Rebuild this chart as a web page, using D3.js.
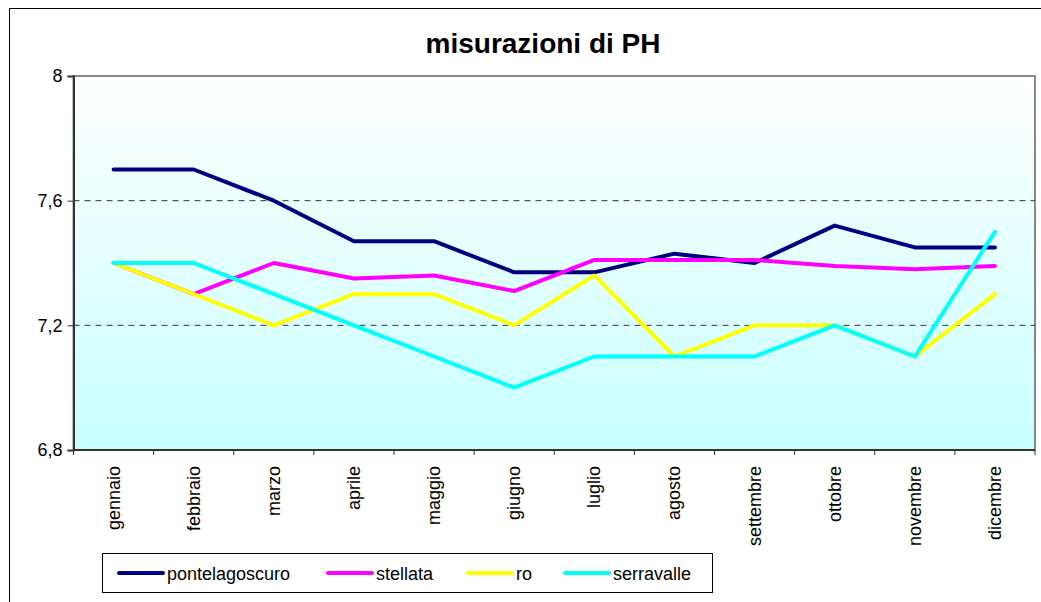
<!DOCTYPE html>
<html>
<head>
<meta charset="utf-8">
<script src="https://cdn.jsdelivr.net/npm/d3@7"></script>
<style>
  body { margin: 0; background: #fff; }
  text { font-family: "Liberation Sans", Arial, sans-serif; }
</style>
</head>
<body>
<script>
var months = ["gennaio", "febbraio", "marzo", "aprile", "maggio", "giugno",
    "luglio", "agosto", "settembre", "ottobre", "novembre", "dicembre"];
var pontelagoscuro = [7.7, 7.7, 7.6, 7.47, 7.47, 7.37, 7.37, 7.43, 7.40, 7.52, 7.45, 7.45];
var stellata = [7.4, 7.3, 7.4, 7.35, 7.36, 7.31, 7.41, 7.41, 7.41, 7.39, 7.38, 7.39];
var ro = [7.4, 7.3, 7.2, 7.3, 7.3, 7.2, 7.36, 7.1, 7.2, 7.2, 7.1, 7.3];
var serravalle = [7.4, 7.4, 7.3, 7.2, 7.1, 7.0, 7.1, 7.1, 7.1, 7.2, 7.1, 7.5];
var yTicks = [6.8, 7.2, 7.6, 8];

var series = [
    { name: "pontelagoscuro", values: pontelagoscuro, color: "#000080" },
    { name: "stellata", values: stellata, color: "#ff00ff" },
    { name: "ro", values: ro, color: "#ffff00" },
    { name: "serravalle", values: serravalle, color: "#00ffff" }
];

var width = 1041, height = 602;
var plot = { left: 73.5, top: 76, right: 1035, bottom: 450 };

var svg = d3.select("body").append("svg")
    .attr("width", width)
    .attr("height", height);

// outer chart frame (runs past the window on the right and bottom)
svg.append("rect")
    .attr("x", 9.5).attr("y", 8.5)
    .attr("width", 1100).attr("height", 700)
    .attr("fill", "#fff")
    .attr("stroke", "#000")
    .attr("stroke-width", 1);

var defs = svg.append("defs");
var grad = defs.append("linearGradient")
    .attr("id", "bg")
    .attr("x1", 0).attr("y1", 0).attr("x2", 0).attr("y2", 1);
grad.append("stop").attr("offset", "0%").attr("stop-color", "#ffffff");
grad.append("stop").attr("offset", "100%").attr("stop-color", "#c8ffff");

var x = d3.scalePoint()
    .domain(months)
    .range([plot.left, plot.right])
    .padding(0.5);

var y = d3.scaleLinear()
    .domain([6.8, 8])
    .range([plot.bottom, plot.top]);

svg.append("rect")
    .attr("x", plot.left).attr("y", plot.top)
    .attr("width", plot.right - plot.left)
    .attr("height", plot.bottom - plot.top)
    .attr("fill", "url(#bg)")
    .attr("stroke", "#888")
    .attr("stroke-width", 2);

// dashed gridlines
svg.append("g")
    .selectAll("line")
    .data(yTicks.filter(function (d) { return d > 6.8 && d < 8; }))
    .join("line")
    .attr("x1", plot.left).attr("x2", plot.right)
    .attr("y1", function (d) { return y(d); })
    .attr("y2", function (d) { return y(d); })
    .attr("stroke", "#333")
    .attr("stroke-width", 1)
    .attr("stroke-dasharray", "6,5");

// y axis
var yAxis = svg.append("g")
    .attr("transform", "translate(" + plot.left + ",0)")
    .call(d3.axisLeft(y).tickValues(yTicks).tickSize(6).tickPadding(5)
        .tickFormat(function (d) { return d3.format(".1f")(d).replace(".", ",").replace(",0", ""); }));
yAxis.select(".domain").attr("stroke", "#333").attr("stroke-width", 2);
yAxis.selectAll(".tick line").attr("stroke", "#333");
yAxis.selectAll("text")
    .attr("font-size", 18)
    .attr("fill", "#000")
    .style("font-family", "'Liberation Sans', Arial, sans-serif");

// x axis: ticks at band boundaries
var bandW = (plot.right - plot.left) / months.length;
var xAxisG = svg.append("g");
xAxisG.append("line")
    .attr("x1", plot.left).attr("x2", plot.right)
    .attr("y1", plot.bottom).attr("y2", plot.bottom)
    .attr("stroke", "#333").attr("stroke-width", 2);
xAxisG.selectAll(".xtick")
    .data(d3.range(months.length + 1))
    .join("line")
    .attr("class", "xtick")
    .attr("x1", function (i) { return plot.left + i * bandW; })
    .attr("x2", function (i) { return plot.left + i * bandW; })
    .attr("y1", plot.bottom).attr("y2", plot.bottom + 5)
    .attr("stroke", "#333").attr("stroke-width", 1);
xAxisG.selectAll(".xlabel")
    .data(months)
    .join("text")
    .attr("class", "xlabel")
    .attr("transform", function (d) {
        return "translate(" + (x(d) + 6) + "," + (plot.bottom + 16) + ") rotate(-90)";
    })
    .attr("text-anchor", "end")
    .attr("font-size", 18)
    .text(function (d) { return d; });

// lines
var line = d3.line()
    .x(function (d, i) { return x(months[i]); })
    .y(function (d) { return y(d); });

svg.append("g")
    .selectAll("path")
    .data(series)
    .join("path")
    .attr("d", function (s) { return line(s.values); })
    .attr("fill", "none")
    .attr("stroke", function (s) { return s.color; })
    .attr("stroke-width", 4)
    .attr("stroke-linejoin", "round")
    .attr("stroke-linecap", "round");

// title
svg.append("text")
    .attr("x", 543)
    .attr("y", 53)
    .attr("text-anchor", "middle")
    .attr("font-size", 28)
    .attr("font-weight", "bold")
    .text("misurazioni di PH");

// legend
var legend = svg.append("g");
legend.append("rect")
    .attr("x", 102.5).attr("y", 553.5)
    .attr("width", 610).attr("height", 39)
    .attr("fill", "#fff")
    .attr("stroke", "#000");
var legendX = [119, 328, 468, 565];
var item = legend.selectAll(".item")
    .data(series)
    .join("g")
    .attr("class", "item")
    .attr("transform", function (s, i) { return "translate(" + legendX[i] + ",573)"; });
item.append("line")
    .attr("x1", 0).attr("x2", 44)
    .attr("stroke", function (s) { return s.color; })
    .attr("stroke-width", 4)
    .attr("stroke-linecap", "round");
item.append("text")
    .attr("x", 48)
    .attr("y", 6.5)
    .attr("font-size", 18)
    .text(function (s) { return s.name; });
</script>
</body>
</html>
